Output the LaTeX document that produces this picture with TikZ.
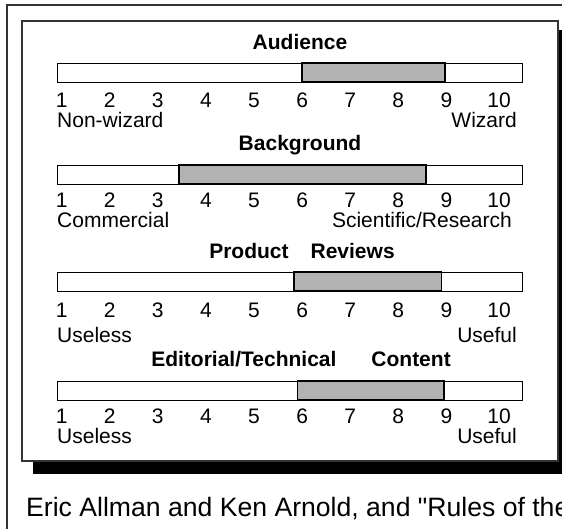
\documentclass[tikz,border=0pt]{standalone}
\usepackage{fontspec}
\newfontfamily\chartfont{Liberation Sans}
\usetikzlibrary{positioning}

\begin{document}
\begin{tikzpicture}[x=1pt,y=-1pt]
    \tikzstyle{frame}=[draw=black!80,line width=1.4pt]
    \tikzstyle{scale-bar}=[rectangle,draw=black,line width=0.9pt,fill=white,
    minimum width=465pt,minimum height=19pt,inner sep=0pt]
    \tikzstyle{rating-span}=[draw=black,line width=1.8pt,fill=black!30]
    \tikzstyle{heading}=[font=\chartfont\fontsize{21}{21}\selectfont\bfseries,anchor=base,inner sep=0pt]
    \tikzstyle{tick}=[font=\chartfont\fontsize{21}{21}\selectfont,anchor=base,inner sep=0pt]
    \tikzstyle{low-end}=[font=\chartfont\fontsize{21}{21}\selectfont,anchor=base west,inner sep=0pt]
    \tikzstyle{high-end}=[font=\chartfont\fontsize{21}{21}\selectfont,anchor=base east,inner sep=0pt]

    \useasboundingbox (0,0) rectangle (562,529);
    \clip (0,0) rectangle (562,529);

    % page frame and shadowed box
    \draw [frame] (7,5) rectangle (620,620);
    \fill [black] (33,30) rectangle (580,474);
    \draw [frame,fill=white] (22,21) rectangle (558,461);

    % the four scales
    \node [scale-bar] (aud) at (289.5,72.5) {};
    \node [scale-bar] (bg) at (289.5,174.5) {};
    \node [scale-bar] (prod) at (289.5,281.5) {};
    \node [scale-bar] (ed) at (289.5,390.5) {};

    \draw [rating-span] (302,63) rectangle (445,82);
    \draw [rating-span] (179,165) rectangle (426,184);
    \draw [rating-span] (294,272) rectangle (441.5,291);
    \draw [rating-span] (297.5,381) rectangle (444,400);

    \node [heading] (aud-title) at (300,50) {Audience};
    \node [heading] (bg-title) at (300,151) {Background};
    \node [heading] (prod-title) at (302,259) {Product\hspace{22pt}Reviews};
    \node [heading] (ed-title) at (301,366) {Editorial/Technical\hspace{35pt}Content};

    \foreach \row/\y in {aud/107.5,bg/208,prod/317.5,ed/423.5} {
        \foreach \n in {1,...,9}
            \node [tick] (\row-\n) at ({61.6+(\n-1)*48.1},\y) {\n};
        \node [tick] (\row-10) at (499,\y) {10};
    }

    \node [low-end] (aud-low) at (57,128) {Non-wizard};
    \node [high-end] (aud-high) at (517,128) {Wizard};
    \node [low-end] (bg-low) at (57,228) {Commercial};
    \node [high-end] (bg-high) at (512,228) {Scientific/Research};
    \node [low-end] (prod-low) at (57,342.5) {Useless};
    \node [high-end] (prod-high) at (517,342.5) {Useful};
    \node [low-end] (ed-low) at (57,443.5) {Useless};
    \node [high-end] (ed-high) at (517,443.5) {Useful};

    \node [low-end,font=\chartfont\fontsize{26.6}{26.6}\selectfont] (caption) at (26,516)
        {Eric Allman and Ken Arnold, and "Rules of the};
\end{tikzpicture}
\end{document}
